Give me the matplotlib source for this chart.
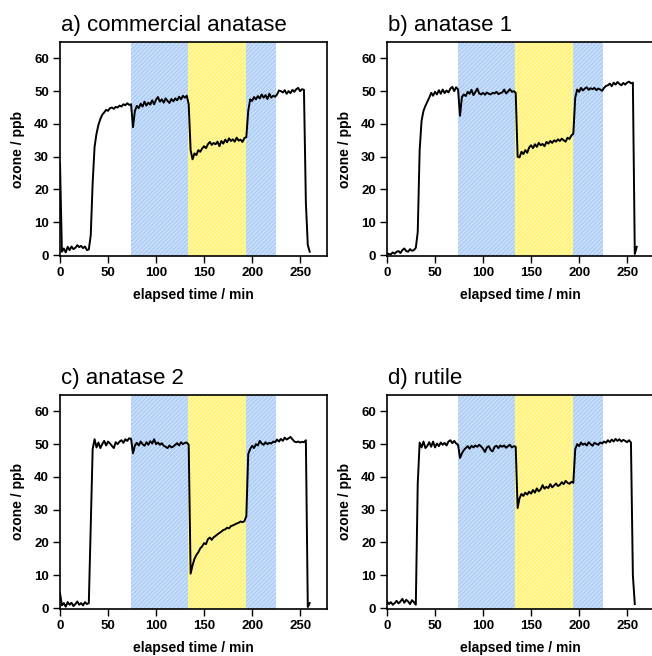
import numpy as np
import matplotlib
matplotlib.use("Agg")
import matplotlib.pyplot as plt

# elapsed time grid (min)
time_min = np.arange(0, 261, 2)

titles = ["a) commercial anatase", "b) anatase 1", "c) anatase 2", "d) rutile"]

# ozone mixing ratio (ppb), one value per time step
ozone_commercial = [
    28.0, 1.0, 2.0, 0.8, 2.5, 1.5, 2.6, 1.8, 2.2, 3.0,
    2.4, 2.8, 2.1, 2.6, 1.5, 1.7, 6.0, 22.0, 33.0, 37.0,
    39.7, 41.5, 42.8, 43.5, 44.3, 44.0, 44.8, 45.0, 44.6, 45.2,
    45.0, 45.6, 45.3, 46.0, 45.7, 46.3, 45.8, 46.0, 39.0, 44.0,
    45.5, 44.8, 46.2, 45.3, 46.8, 45.6, 46.5, 45.9, 47.2, 46.0,
    47.4, 48.2, 46.8, 47.5, 46.5, 47.8, 47.0, 46.4, 47.6, 46.9,
    47.8, 47.2, 48.3, 47.5, 48.6, 48.0, 48.6, 46.0, 32.0, 29.2,
    31.0, 30.5, 32.0, 31.5, 32.5, 33.2, 32.6, 33.8, 34.5, 33.6,
    34.2, 33.8, 34.6, 33.2, 34.8, 34.0, 35.2, 34.4, 35.6, 34.8,
    35.3, 34.6, 35.8, 34.9, 35.2, 34.5, 35.7, 36.0, 44.0, 47.5,
    47.0, 48.2, 47.5, 48.5, 47.8, 49.0, 48.0, 48.8, 47.6, 49.2,
    48.0, 48.6, 48.3, 49.0, 50.2, 50.0, 49.6, 50.3, 49.2, 50.0,
    49.4, 50.4, 49.8, 50.6, 51.0, 50.0, 50.6, 50.4, 16.0, 3.0,
    1.0,
]
ozone_anatase1 = [
    0.5, 0.3, 0.2, 0.8, 0.4, 1.0, 1.2, 0.6, 1.5, 2.0,
    1.2, 1.0, 1.8, 1.3, 1.5, 2.2, 7.0, 32.0, 41.0, 44.0,
    45.5, 46.8, 48.0, 49.5, 48.6, 49.8, 49.0, 50.3, 49.2, 50.5,
    49.4, 50.2, 49.6, 50.8, 51.3, 50.0, 51.2, 50.5, 42.5, 48.2,
    49.0, 48.5, 49.8, 49.2, 50.4, 48.8, 49.7, 50.8, 49.3, 49.0,
    49.5, 48.9, 49.6, 49.2, 49.0, 49.5, 49.3, 49.8, 49.1, 49.4,
    49.6, 50.5, 49.3, 49.9, 50.6, 49.8, 50.0, 49.5, 30.0, 29.8,
    31.5, 30.8, 32.0, 31.2, 32.8, 33.5, 32.6, 33.8, 33.0, 34.2,
    33.5, 33.9, 33.2, 34.5, 34.0, 34.8, 34.2, 35.0, 34.6, 35.3,
    34.8, 35.5, 35.0, 34.6, 35.8, 35.4, 36.5, 37.0, 48.0, 50.5,
    49.8, 51.0, 50.2, 50.8, 51.2, 50.4, 50.9, 50.6, 51.0, 50.3,
    50.8, 50.5, 50.1, 51.0, 51.6, 51.8, 52.3, 51.5, 52.6, 52.0,
    52.8, 52.2, 51.8, 52.5, 52.0, 52.6, 52.9, 52.4, 52.6, 0.3,
    2.5,
]
ozone_anatase2 = [
    4.5, 0.8, 1.5, 0.4, 1.8, 1.0, 1.6, 0.6, 1.2, 2.0,
    1.0, 1.5, 0.8, 1.8, 1.2, 1.5, 25.0, 48.5, 51.5, 49.0,
    50.5, 48.8, 50.0, 51.0, 49.6, 50.8, 50.2, 49.5, 48.8, 50.6,
    50.0, 50.8, 51.2, 50.4, 51.5, 51.0, 51.8, 51.6, 47.2, 49.6,
    50.4, 49.6, 50.8, 50.0, 49.5, 50.6, 49.8, 50.9, 50.2, 51.5,
    50.0, 50.5, 49.8, 50.3, 49.5, 49.2, 48.8, 49.6, 49.0, 49.3,
    49.8, 50.3, 49.6, 50.6, 50.0, 50.4, 50.5, 49.8, 10.5, 13.0,
    15.0, 16.2, 17.0, 18.2, 18.8, 19.8, 19.5, 21.0, 21.5, 20.8,
    21.6, 22.0, 22.5, 22.9, 23.3, 23.8, 24.0, 24.5, 24.3, 25.0,
    25.2, 25.5, 25.8, 26.0, 26.4, 26.2, 26.5, 28.0, 47.0, 48.5,
    49.5, 48.8, 50.0, 49.6, 51.0, 50.2, 49.8, 50.6, 50.0, 50.4,
    50.2, 50.8, 50.6, 51.4, 50.8, 51.6, 51.0, 52.0, 51.4, 51.8,
    52.2, 51.5, 50.8, 50.6, 50.8, 50.5, 50.7, 50.6, 51.2, 0.3,
    1.5,
]
ozone_rutile = [
    2.0, 1.2, 1.8, 1.0, 1.5, 2.2, 1.4, 2.0, 2.8, 1.6,
    2.5, 2.0, 1.2, 2.4, 1.8, 1.0, 38.0, 50.5, 49.0, 50.8,
    48.8, 49.5, 50.6, 49.2, 50.8, 49.0, 50.2, 49.4, 50.5, 49.8,
    50.4, 49.6, 50.8, 51.2, 50.3, 51.0, 50.2, 49.8, 45.8, 47.2,
    48.2, 48.8, 49.4, 48.6, 49.5, 49.0, 49.6, 49.2, 49.8, 49.3,
    48.6, 47.6, 49.0, 49.4, 48.2, 47.8, 49.2, 49.5, 48.8, 49.6,
    49.2, 49.6, 48.9, 49.4, 49.8, 49.0, 49.4, 49.2, 30.5, 33.5,
    34.8, 34.2, 35.2, 34.6, 35.5, 34.9, 36.0, 35.2, 36.5, 35.6,
    36.2, 37.5, 36.4, 37.0, 36.6, 37.8, 36.8, 37.4, 38.0, 37.2,
    37.6, 38.4, 37.8, 38.8, 38.2, 37.9, 38.5, 38.2, 48.5, 50.0,
    49.4, 50.5, 49.8, 50.2, 49.6, 50.6, 50.0, 49.5, 50.4, 50.1,
    49.8, 50.5, 50.2, 50.8, 50.4, 51.2, 50.6, 51.4, 50.8, 51.6,
    51.0, 51.5, 50.8, 51.3, 51.0, 50.6, 51.2, 50.5, 10.0, 1.2,
    np.nan,
]
series = [ozone_commercial, ozone_anatase1, ozone_anatase2, ozone_rutile]

# illumination periods (min)
blue_periods = [(74, 133), (194, 225)]
yellow_periods = [(133, 194)]

x_ticks = [0, 50, 100, 150, 200, 250]
y_ticks = [0, 10, 20, 30, 40, 50, 60]

plt.rcParams["font.family"] = ["Liberation Sans", "DejaVu Sans"]
plt.rcParams["hatch.linewidth"] = 0.5

W, H = 652, 656
fig = plt.figure(figsize=(W / 100, H / 100), dpi=100)

# axes boxes in pixels: left, top, width, height
boxes = [(60, 42, 267, 214), (387, 42, 267, 214),
         (60, 395, 267, 214), (387, 395, 267, 214)]

for (lx, ty, w, h), title, y in zip(boxes, titles, series):
    ax = fig.add_axes([lx / W, 1 - (ty + h) / H, w / W, h / H])
    for a, b in blue_periods:
        ax.axvspan(a, b, facecolor="#b0cff6", edgecolor="#e4eefc",
                   hatch="////////", linewidth=0, zorder=0)
    for a, b in yellow_periods:
        ax.axvspan(a, b, facecolor="#fff37a", edgecolor="#fffbd0",
                   hatch="////////", linewidth=0, zorder=0)
    ax.plot(time_min, y, color="black", lw=1.4, zorder=3)
    ax.set_xlim(0, 278)
    ax.set_ylim(-0.3, 65)
    ax.set_xticks(x_ticks)
    ax.set_yticks(y_ticks)
    ax.tick_params(direction="out", length=5, width=1, labelsize=9.5, pad=3,
                   top=False, right=False)
    for lab in ax.get_xticklabels() + ax.get_yticklabels():
        lab.set_fontweight("bold")
    for sp in ax.spines.values():
        sp.set_linewidth(1.2)
    ax.set_xlabel("elapsed time / min", fontsize=10, fontweight="bold")
    ax.set_ylabel("ozone / ppb", fontsize=10, fontweight="bold")
    ax.xaxis.set_label_coords(0.5, -0.15)
    ax.yaxis.set_label_coords(-0.13, 0.5)
    ax.text(0.005, 1.05, title, transform=ax.transAxes, fontsize=16,
            ha="left", va="baseline")

fig.savefig("out.png", dpi=100)
